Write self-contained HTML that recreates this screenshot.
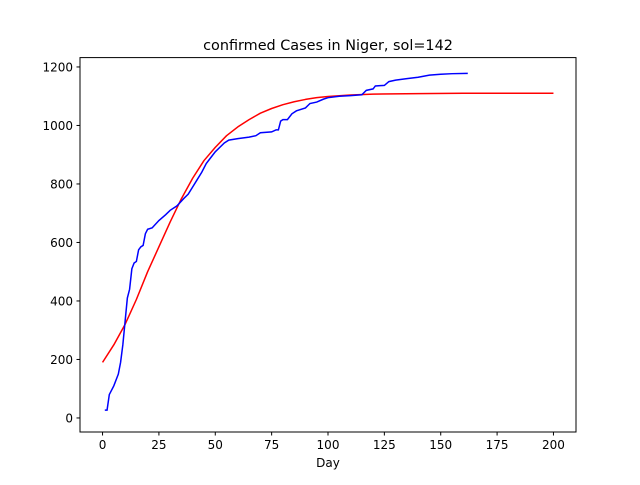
<!DOCTYPE html>
<html><head><meta charset="utf-8"><style>
body{margin:0;background:#fff;}
svg{font-family:"DejaVu Sans","Liberation Sans",sans-serif;}
</style></head><body>
<svg id="chart" width="640" height="480" xmlns="http://www.w3.org/2000/svg">
<rect width="640" height="480" fill="#fff"/>
<text x="328" y="50" font-size="14.4" text-anchor="middle">confirmed Cases in Niger, sol=142</text>
<g id="plot"></g>
<rect x="80" y="57.6" width="496" height="374.4" fill="none" stroke="#000" stroke-width="1"/>
<text x="328" y="467" font-size="12" text-anchor="middle">Day</text>
</svg>
<script>
const blueDays=[1,2,3,5,7,8,9,10,11,12,13,14,15,16,17,18,19,20,22,25,28,30,33,36,38,40,42,44,46,48,50,52,54,56,60,65,68,70,75,77,78,79,80,82,84,86,90,92,95,98,100,105,110,115,117,120,121,125,127,130,135,140,145,150,155,162];
const blueCases=[27,27,80,110,150,190,250,330,410,440,510,530,535,575,585,590,630,645,650,675,695,710,725,750,765,790,815,840,870,890,910,925,940,950,955,960,965,975,978,985,985,1015,1020,1020,1040,1050,1060,1075,1080,1090,1095,1100,1102,1105,1120,1125,1135,1137,1150,1155,1160,1165,1172,1175,1177,1178];
const fitDays=[0,5,10,15,20,25,30,35,40,45,50,55,60,65,70,75,80,85,90,95,100,110,120,140,160,180,200];
const fitCases=[190,250,320,405,500,585,670,750,820,880,925,965,995,1020,1042,1058,1071,1081,1089,1095,1099,1104,1107,1109,1110,1110,1110];
const xTicks=[0,25,50,75,100,125,150,175,200];
const yTicks=[0,200,400,600,800,1000,1200];
const X0=80,X1=576,Y0=432,Y1=57.6,xmin=-10,xmax=210,ymin=-48,ymax=1232;
const sx=v=>X0+(v-xmin)/(xmax-xmin)*(X1-X0);
const sy=v=>Y0-(v-ymin)/(ymax-ymin)*(Y0-Y1);
const NS="http://www.w3.org/2000/svg";
const g=document.getElementById('plot');
function mk(t,a){const e=document.createElementNS(NS,t);for(const k in a)e.setAttribute(k,a[k]);g.appendChild(e);return e;}
xTicks.forEach(v=>{
 const l=mk('line',{x1:sx(v),x2:sx(v),y1:Y0,y2:Y0+3.5,stroke:'#000'});
 
 
 const t=mk('text',{x:sx(v),y:Y0+17,'font-size':12,'text-anchor':'middle'});t.textContent=v;
 
 
});
yTicks.forEach(v=>{
 const l=mk('line',{x1:X0-3.5,x2:X0,y1:sy(v),y2:sy(v),stroke:'#000'});
 
 
 const t=mk('text',{x:X0-7,y:sy(v)+4.5,'font-size':12,'text-anchor':'end'});t.textContent=v;
 
 
});
const r=mk('polyline',{points:fitDays.map((d,i)=>sx(d)+','+sy(fitCases[i])).join(' '),fill:'none',stroke:'#ff0000','stroke-width':1.5,'stroke-linejoin':'round'});


const b=mk('polyline',{points:blueDays.map((d,i)=>sx(d)+','+sy(blueCases[i])).join(' '),fill:'none',stroke:'#0000ff','stroke-width':1.5});


</script>
</body></html>
